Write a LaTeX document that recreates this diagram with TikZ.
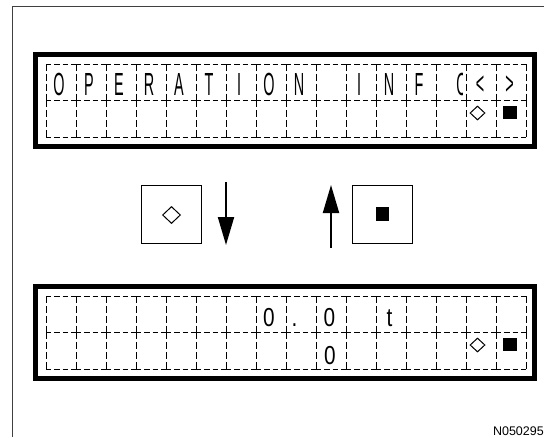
\documentclass[tikz,border=0pt]{standalone}
\usepackage{fontspec}
\usepackage{tikz}
\usetikzlibrary{arrows.meta,shapes.geometric}
\newfontfamily\lcdfont{Liberation Sans}
\tikzset{
  lcdbig/.style={font=\lcdfont\fontsize{32}{32}\selectfont,xscale=.45,anchor=base,inner sep=0pt},
  lcdsmall/.style={font=\lcdfont\fontsize{26}{26}\selectfont,xscale=.8,anchor=base,inner sep=0pt},
  cellh/.style={line width=.9pt,dash pattern=on 5.25pt off 3pt},
  cellv/.style={line width=.9pt,dash pattern=on 6.9pt off 3pt},
  bezel/.style={line width=5pt},
  keybox/.style={draw,line width=1pt,minimum width=60pt,minimum height=58pt,inner sep=0pt},
  hollow/.style={diamond,draw,line width=1pt,inner sep=0pt},
  filledsq/.style={rectangle,fill=black,inner sep=0pt},
  push/.style={line width=2pt,-{Triangle[length=28pt,width=16pt]}}
}
\begin{document}
\begin{tikzpicture}[x=1pt,y=-1pt]
    \useasboundingbox (0,0) rectangle (544,437);
    \draw[line width=1pt,black!75] (12,437)--(12,6)--(544,6);
    % both displays
    \foreach \top in {64,296} {
      \draw[bezel] (35.5,\top-9.5) rectangle (534.5,\top+82.5);
      \foreach \i in {0,...,15}
        \foreach \row in {0,36.5,73}
          \draw[cellh] ({46+30*\i},\top+\row)--++(30,0);
      \foreach \i in {0,...,16}
        \foreach \row in {0,36.5}
          \draw[cellv] ({46+30*\i},\top+\row)--++(0,36.5);
      \node[hollow,minimum width=15pt,minimum height=14pt] at (477.5,\top+49) {};
      \node[filledsq,minimum width=14pt,minimum height=13pt] at (509.7,\top+48.7) {};
    }
    % upper display text
    \foreach \i/\ch in {0/O,1/P,2/E,3/R,4/A,5/T,6/I,7/O,8/N,10/I,11/N,12/F}
      \node[lcdbig] (top\i) at ({59+30*\i},95) {\ch};
    \begin{scope}
      \clip (436,60) rectangle (462.5,100);
      \node[lcdbig] (top13) at (462,95) {O};
    \end{scope}
    \node[lcdbig,anchor=center] (top14) at (480,85) {<};
    \node[lcdbig,anchor=center] (top15) at (509.5,85) {>};
    % lower display text
    \node[lcdsmall] (low7) at (269,326.5) {0};
    \node[lcdsmall] (low8) at (294.5,326.5) {.};
    \node[lcdsmall] (low9) at (329.5,326.5) {0};
    \node[lcdsmall] (low11) at (389.5,326.5) {t};
    \node[lcdsmall] (sub9) at (330,364) {0};
    % keys and arrows
    \node[keybox] (keyL) at (171,214) {};
    \node[hollow,minimum width=18pt,minimum height=17pt] (symL) at (171.5,215) {};
    \node[keybox] (keyR) at (382,214) {};
    \node[filledsq,minimum size=13.5pt] (symR) at (382.7,214) {};
    \coordinate (dnA) at (226,182);
    \coordinate (dnB) at (226,245);
    \coordinate (upA) at (331,248);
    \coordinate (upB) at (331,185);
    \draw[push] (dnA)--(dnB);
    \draw[push] (upA)--(upB);
    \node[font=\lcdfont\fontsize{12.5}{12.5}\selectfont,anchor=base east,inner sep=0pt] (code) at (544,435) {N050295};
\end{tikzpicture}
\end{document}
